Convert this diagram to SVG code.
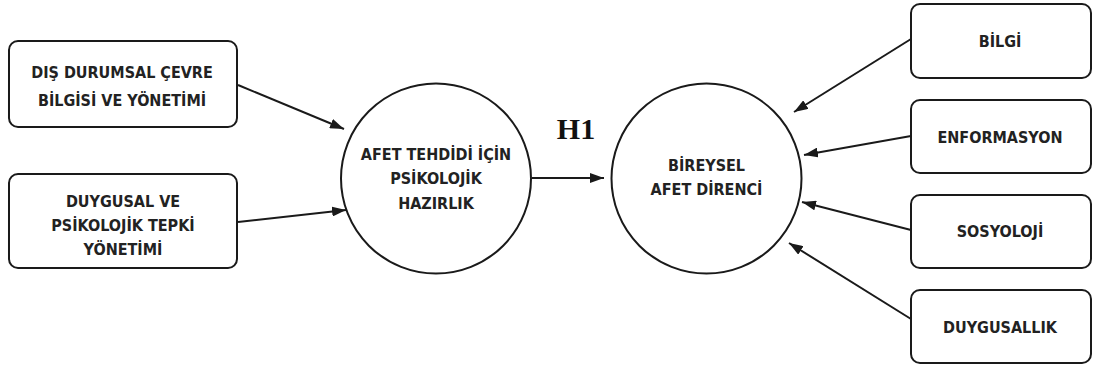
<svg xmlns="http://www.w3.org/2000/svg" width="1093" height="372" viewBox="0 0 1093 372">
<defs>
<marker id="ah" viewBox="0 0 14 10" refX="14" refY="5" markerWidth="14" markerHeight="10" markerUnits="userSpaceOnUse" orient="auto">
<path d="M0,0 L14,5 L0,10 Z" fill="#1a1a1a"/>
</marker>
<style>
.box{fill:#fff;stroke:#1a1a1a;stroke-width:2}
.t{font-family:"DejaVu Sans Condensed","DejaVu Sans",sans-serif;font-weight:bold;font-size:16px;fill:#222;text-anchor:middle}
.c{stroke:#1a1a1a;stroke-width:2;fill:none;marker-end:url(#ah)}
</style>
</defs>
<rect width="1093" height="372" fill="#fff"/>
<g id="n1"><rect class="box" x="9" y="41" width="228" height="86" rx="9"/>
<text class="t" x="122" y="78">DIŞ DURUMSAL ÇEVRE</text>
<text class="t" x="122" y="106">BİLGİSİ VE YÖNETİMİ</text></g>
<g id="n2"><rect class="box" x="9" y="174" width="228" height="94" rx="9"/>
<text class="t" x="123" y="207">DUYGUSAL VE</text>
<text class="t" x="123" y="231">PSİKOLOJİK TEPKİ</text>
<text class="t" x="123" y="255">YÖNETİMİ</text></g>
<g id="c1"><circle cx="436" cy="178.5" r="95" fill="#fff" stroke="#1a1a1a" stroke-width="2"/>
<text class="t" x="436" y="160">AFET TEHDİDİ İÇİN</text>
<text class="t" x="436" y="184">PSİKOLOJİK</text>
<text class="t" x="436" y="209">HAZIRLIK</text></g>
<g id="c2"><circle cx="706.5" cy="178.5" r="95" fill="#fff" stroke="#1a1a1a" stroke-width="2"/>
<text class="t" x="706.5" y="171">BİREYSEL</text>
<text class="t" x="706.5" y="195">AFET DİRENCİ</text></g>
<g id="h1"><text x="576" y="139" font-family="Liberation Serif,serif" font-weight="bold" font-size="30" fill="#111" text-anchor="middle">H1</text></g>
<g id="r1"><rect class="box" x="911" y="4" width="180" height="74" rx="9"/>
<text class="t" x="1000" y="47">BİLGİ</text></g>
<g id="r2"><rect class="box" x="911" y="100" width="180" height="73" rx="9"/>
<text class="t" x="1000" y="143">ENFORMASYON</text></g>
<g id="r3"><rect class="box" x="911" y="195" width="180" height="73" rx="9"/>
<text class="t" x="1000" y="237">SOSYOLOJİ</text></g>
<g id="r4"><rect class="box" x="911" y="290" width="180" height="73" rx="9"/>
<text class="t" x="1000" y="333">DUYGUSALLIK</text></g>
<g id="connectors">
<line class="c" x1="238" y1="85" x2="344" y2="129"/>
<line class="c" x1="238" y1="222" x2="346" y2="210"/>
<line class="c" x1="532" y1="178" x2="604" y2="178"/>
<line class="c" x1="911" y1="39" x2="794" y2="112"/>
<line class="c" x1="911" y1="136" x2="804" y2="155"/>
<line class="c" x1="911" y1="230" x2="802" y2="202"/>
<line class="c" x1="911" y1="319" x2="789" y2="243"/>
</g>
</svg>
